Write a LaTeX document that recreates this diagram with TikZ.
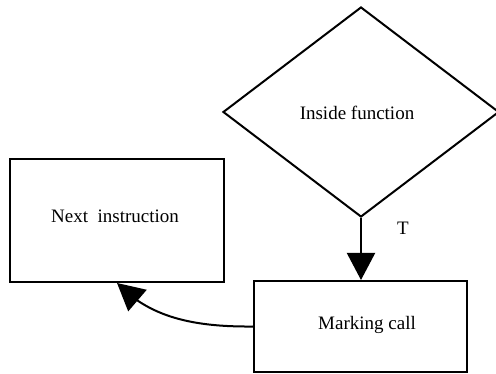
\documentclass[tikz,border=0pt]{standalone}
\usepackage{fontspec}
\setmainfont{Liberation Serif}
\usetikzlibrary{shapes.geometric,arrows.meta,bending}
\tikzset{
  box/.style={draw=black, line width=2pt, rectangle, inner sep=0pt},
  decision/.style={draw=black, line width=2pt, diamond, inner sep=0pt},
  lbl/.style={font=\fontsize{19}{22}\selectfont},
  conn/.style={line width=2pt, -{Triangle[length=27pt,width=28pt]}},
}
\begin{document}
\begin{tikzpicture}[x=1pt,y=-1pt]
\useasboundingbox (0,0) rectangle (496,374);
\node[decision, minimum width=276pt, minimum height=210pt] (d) at (361,112) {};
\node[lbl] (dt) at (357,113) {Inside function};
\node[box, minimum width=214pt, minimum height=123pt] (n) at (117,220.5) {};
\node[lbl] (nt) at (115,216) {Next\ \ instruction};
\node[box, minimum width=213pt, minimum height=91pt] (m) at (360.5,326.5) {};
\node[lbl] (mt) at (367,325) {Marking call};
\node[lbl] (t) at (403,228) {T};
\draw[conn] (d.south) -- (d.south |- m.north);
\draw[conn] (m.west) .. controls (195,327) and (150,318) .. (n.south);
\end{tikzpicture}
\end{document}
